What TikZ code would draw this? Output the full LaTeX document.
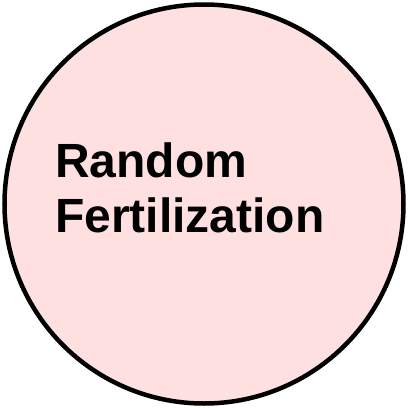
\documentclass[tikz,border=0pt]{standalone}
\usepackage{fontspec}
\setmainfont{Liberation Sans}
\usepackage{tikz}
\usetikzlibrary{positioning}
\definecolor{FertPink}{HTML}{FFE0E0}

\begin{document}
\begin{tikzpicture}[
            x=1pt, y=1pt,
            disc/.style={
                    circle,
                    draw=black,
                    line width=4.5pt,
                    fill=FertPink,
                    minimum size=399pt,
                    inner sep=0pt
                },
            label/.style={
                    font=\fontsize{48}{55}\selectfont\bfseries,
                    inner sep=0pt,
                    align=left
                },
        ]

        \useasboundingbox (0,0) rectangle (408,-408);

        % Circle
        \node[disc] (cell) at (204,-204) {};

        % Text
        \node[label, anchor=base west] (txt) at (55,-232) {Random\\Fertilization};

    \end{tikzpicture}
\end{document}
